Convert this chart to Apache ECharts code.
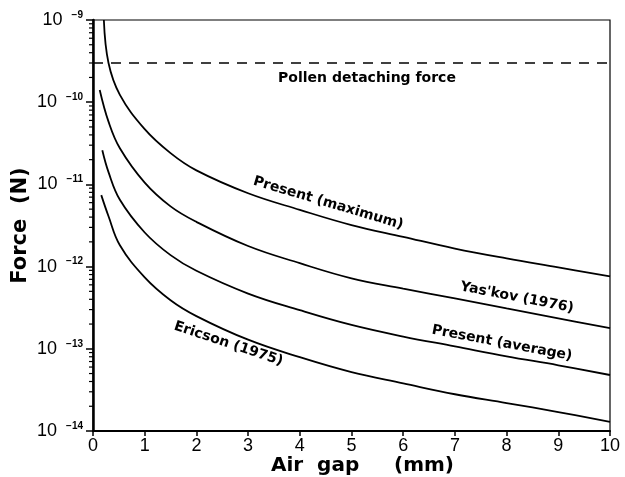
<!DOCTYPE html>
<html><head><meta charset="utf-8">
<script src="https://cdn.jsdelivr.net/npm/echarts@6/dist/echarts.min.js"></script>
<style>html,body{margin:0;padding:0;background:#fff}#c{width:625px;height:477px}</style>
</head><body><div id="c"></div>
<script>
// ---- data ----
const gapMax = [0.21, 0.3, 0.52, 1, 1.5, 2, 3, 4, 5, 6, 7, 8, 9, 10];
const forceMax = [1.0e-9, 3.0e-10, 1.23e-10, 4.7e-11, 2.4e-11, 1.48e-11, 7.8e-12, 4.9e-12, 3.2e-12, 2.3e-12, 1.66e-12, 1.26e-12, 9.8e-13, 7.6e-13];
const gapYaskov = [0.13, 0.3, 0.52, 1, 1.5, 2, 3, 4, 5, 6, 7, 8, 9, 10];
const forceYaskov = [1.41e-10, 5.8e-11, 2.75e-11, 1.05e-11, 5.4e-12, 3.5e-12, 1.78e-12, 1.10e-12, 7.2e-13, 5.4e-13, 4.1e-13, 3.1e-13, 2.35e-13, 1.78e-13];
const gapAvg = [0.18, 0.3, 0.52, 1, 1.5, 2, 3, 4, 5, 6, 7, 8, 9, 10];
const forceAvg = [2.6e-11, 1.41e-11, 6.5e-12, 2.6e-12, 1.38e-12, 8.9e-13, 4.7e-13, 2.95e-13, 1.95e-13, 1.41e-13, 1.07e-13, 8.1e-14, 6.3e-14, 4.8e-14];
const gapEricson = [0.16, 0.3, 0.52, 1, 1.5, 2, 3, 4, 5, 6, 7, 8, 9, 10];
const forceEricson = [7.4e-12, 4.1e-12, 1.82e-12, 7.4e-13, 3.9e-13, 2.5e-13, 1.29e-13, 7.9e-14, 5.2e-14, 3.8e-14, 2.8e-14, 2.19e-14, 1.70e-14, 1.29e-14];
const detachGap = [0, 10];
const detachForce = [3.0e-10, 3.0e-10];
const seriesNames = ['Present (maximum)', "Yas'kov (1976)", 'Present (average)', 'Ericson (1975)'];
const detachName = 'Pollen detaching force';
const xTickLabels = ['0', '1', '2', '3', '4', '5', '6', '7', '8', '9', '10'];
const yDecades = [-14, -13, -12, -11, -10, -9];
const minorMultipliers = [2, 3, 4, 5, 6, 7, 8, 9];

// ---- build ----
const pair = (xs, ys) => xs.map((x, i) => [x, ys[i]]);
const minorTickData = [];
for (let d = 0; d < yDecades.length - 1; d++) {
  minorMultipliers.forEach(m => minorTickData.push([0, m * Math.pow(10, yDecades[d])]));
}

const FONT = 'Liberation Sans, Arial, sans-serif';
const LFONT = 'DejaVu Sans, sans-serif';
function curveLabel(text, coord, rot) {
  return {
    symbol: 'circle', symbolSize: 0, silent: true,
    data: [{ coord: coord, value: text }],
    label: { show: true, position: 'inside', formatter: text, rotate: rot,
      color: '#000', fontFamily: LFONT, fontWeight: 'bold', fontSize: 14 }
  };
}
const lineBase = { type: 'line', symbol: 'none', smooth: 0.4,
  lineStyle: { color: '#000', width: 1.8 }, itemStyle: { color: '#000' }, z: 3 };

const chart = echarts.init(document.getElementById('c'), null, { renderer: 'canvas' });
chart.setOption({
  animation: false,
  backgroundColor: '#fff',
  grid: { left: 93, right: 15, top: 20, bottom: 46, show: true, borderColor: '#000', borderWidth: 1.2, outerBoundsMode: 'none', containLabel: false },
  xAxis: {
    type: 'value', min: 0, max: 10, interval: 1,
    name: 'Air  gap     (mm)', nameLocation: 'middle', nameGap: 24, nameMoveOverlap: false,
    nameTextStyle: { fontFamily: LFONT, fontSize: 20, fontWeight: 'bold', color: '#000', padding: [0, 0, 0, 22], lineHeight: 22 },
    axisLine: { show: true, lineStyle: { color: '#000', width: 2 } },
    axisTick: { show: true, length: 5, lineStyle: { color: '#000', width: 1.5 } },
    axisLabel: { fontFamily: FONT, fontSize: 18, color: '#000', margin: 6,
      formatter: v => xTickLabels[Math.round(v)] },
    splitLine: { show: false }
  },
  yAxis: {
    type: 'log', logBase: 10, min: 1e-14, max: 1e-9,
    name: 'Force  (N)', nameLocation: 'middle', nameGap: 62, nameRotate: 90, nameMoveOverlap: false,
    nameTextStyle: { fontFamily: LFONT, fontSize: 21, fontWeight: 'bold', color: '#000' },
    axisLine: { show: true, lineStyle: { color: '#000', width: 2.5 } },
    axisTick: { show: true, length: 7, lineStyle: { color: '#000', width: 1.5 } },
    axisLabel: {
      margin: 10,
      formatter: v => '{b|10}{s|' + '\u2212' + Math.abs(Math.round(Math.log10(v))) + '}',
      rich: {
        b: { fontFamily: FONT, fontSize: 18, color: '#000', lineHeight: 20, padding: [0, 9, 0, 0] },
        s: { fontFamily: FONT, fontSize: 10, fontWeight: 'bold', color: '#000', verticalAlign: 'top', lineHeight: 20 }
      }
    },
    splitLine: { show: false }
  },
  series: [
    Object.assign({}, lineBase, { name: seriesNames[0], data: pair(gapMax, forceMax),
      markPoint: curveLabel(seriesNames[0], [4.55, 5.9e-12], -16.5) }),
    Object.assign({}, lineBase, { name: seriesNames[1], data: pair(gapYaskov, forceYaskov),
      markPoint: curveLabel(seriesNames[1], [8.2, 4.2e-13], -11) }),
    Object.assign({}, lineBase, { name: seriesNames[2], data: pair(gapAvg, forceAvg),
      markPoint: curveLabel(seriesNames[2], [7.91, 1.17e-13], -10.7) }),
    Object.assign({}, lineBase, { name: seriesNames[3], data: pair(gapEricson, forceEricson),
      markPoint: curveLabel(seriesNames[3], [2.62, 1.15e-13], -18.5) }),
    { type: 'line', name: detachName, data: pair(detachGap, detachForce), symbol: 'none',
      lineStyle: { color: '#000', width: 1.5, type: [10, 8] }, z: 2,
      markPoint: curveLabel(detachName, [5.3, 1.97e-10], 0) },
    { type: 'custom', name: 'minorTicks', coordinateSystem: 'cartesian2d', data: minorTickData, silent: true, clip: false,
      renderItem: (params, api) => {
        const p = api.coord([api.value(0), api.value(1)]);
        return { type: 'line', shape: { x1: p[0] - 4, y1: p[1], x2: p[0], y2: p[1] },
          style: { stroke: '#000', lineWidth: 1.2 } };
      } }
  ]
});
</script>
</body></html>
